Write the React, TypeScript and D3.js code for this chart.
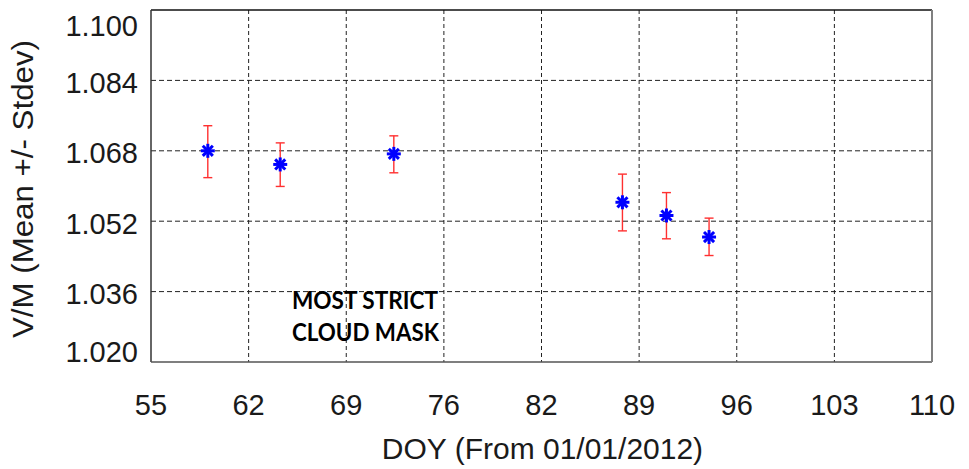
import React, { useEffect } from "react";
import * as d3 from "d3";

const doy = [59.0, 64.1, 72.1, 88.2, 91.3, 94.3];
const meanVals = [1.068, 1.0649, 1.0673, 1.0563, 1.0533, 1.0484];
const upperVals = [1.0737, 1.0698, 1.0714, 1.0627, 1.0585, 1.0527];
const lowerVals = [1.0619, 1.0599, 1.063, 1.0498, 1.048, 1.0442];
const xTickLabels = ["55", "62", "69", "76", "82", "89", "96", "103", "110"];
const yTickValues = [1.02, 1.036, 1.052, 1.068, 1.084, 1.1];
const xTitle = "DOY (From 01/01/2012)";
const yTitle = "V/M (Mean +/- Stdev)";
const noteLines = ["MOST STRICT", "CLOUD MASK"];

const W = 969;
const H = 469;
const L = 151, R = 932, T = 10, B = 362;
const FONT = "'Liberation Sans', Arial, Helvetica, sans-serif";

export default function App() {
  useEffect(() => {
    document.body.style.margin = "0";
  }, []);

  const x = d3.scaleLinear().domain([55, 110]).range([L, R]);
  const y = d3.scaleLinear().domain([1.02, 1.1]).range([B, T]);
  const xTickValues = xTickLabels.map((_, i) => 55 + (i * (110 - 55)) / (xTickLabels.length - 1));

  const arm = 7;
  const diag = arm * 0.72;
  const cap = 4.5;

  return (
    <svg width={W} height={H} style={{ display: "block", background: "#fff" }}>
      <rect x={0} y={0} width={W} height={H} fill="#fff" />
      {/* grid */}
      {xTickValues.slice(1, -1).map((v, i) => (
        <line key={"gx" + i} x1={x(v)} x2={x(v)} y1={T} y2={B} stroke="#222" strokeWidth={1} strokeDasharray="4,3" />
      ))}
      {yTickValues.slice(1, -1).map((v, i) => (
        <line key={"gy" + i} x1={L} x2={R} y1={y(v)} y2={y(v)} stroke="#222" strokeWidth={1} strokeDasharray="5,3" />
      ))}
      {/* frame */}
      <line x1={L} x2={R} y1={T} y2={T} stroke="#111" strokeWidth={1.5} />
      <line x1={L} x2={L} y1={T} y2={B} stroke="#333" strokeWidth={1.5} />
      <line x1={L} x2={R} y1={B} y2={B} stroke="#555" strokeWidth={1.5} />
      <line x1={R} x2={R} y1={T} y2={B} stroke="#808080" strokeWidth={2} />

      {/* error bars */}
      {doy.map((d, i) => {
        const cx = x(d);
        return (
          <g key={"e" + i} stroke="#ff3030" strokeWidth={1.4} fill="none">
            <line x1={cx} x2={cx} y1={y(upperVals[i])} y2={y(lowerVals[i])} />
            <line x1={cx - cap} x2={cx + cap} y1={y(upperVals[i])} y2={y(upperVals[i])} />
            <line x1={cx - cap} x2={cx + cap} y1={y(lowerVals[i])} y2={y(lowerVals[i])} />
          </g>
        );
      })}
      {/* markers */}
      {doy.map((d, i) => {
        const cx = x(d);
        const cy = y(meanVals[i]);
        return (
          <g key={"m" + i} stroke="#0000ff" strokeWidth={3} strokeLinecap="butt">
            <line x1={cx - arm} x2={cx + arm} y1={cy} y2={cy} />
            <line x1={cx} x2={cx} y1={cy - arm} y2={cy + arm} />
            <line x1={cx - diag} x2={cx + diag} y1={cy - diag} y2={cy + diag} />
            <line x1={cx - diag} x2={cx + diag} y1={cy + diag} y2={cy - diag} />
          </g>
        );
      })}

      {/* annotation */}
      <text x={292} y={309} fontFamily="Lato, 'Open Sans', sans-serif" fontWeight="bold" fontSize={24} fill="#000" textLength={146} lengthAdjust="spacingAndGlyphs">
        {noteLines[0]}
      </text>
      <text x={292} y={341} fontFamily="Lato, 'Open Sans', sans-serif" fontWeight="bold" fontSize={24} fill="#000" textLength={147} lengthAdjust="spacingAndGlyphs">
        {noteLines[1]}
      </text>

      {/* x tick labels */}
      {xTickValues.map((v, i) => (
        <text key={"xt" + i} x={x(v)} y={415} textAnchor="middle" fontFamily={FONT} fontSize={29} fill="#1a1a1a">
          {xTickLabels[i]}
        </text>
      ))}
      {/* y tick labels */}
      {yTickValues.map((v, i) => {
        const c = Math.min(Math.max(y(v) + 2, 25.5), 352);
        return (
          <text key={"yt" + i} x={138} y={c + 10.4} textAnchor="end" fontFamily={FONT} fontSize={29} fill="#1a1a1a">
            {d3.format(".3f")(v)}
          </text>
        );
      })}
      {/* titles */}
      <text x={(L + R) / 2 + 1} y={459} textAnchor="middle" fontFamily={FONT} fontSize={30} fill="#1a1a1a">
        {xTitle}
      </text>
      <text
        transform={`translate(33, ${189}) rotate(-90)`}
        textAnchor="middle"
        fontFamily={FONT}
        fontSize={30}
        fill="#1a1a1a"
        textLength={298}
        lengthAdjust="spacingAndGlyphs"
      >
        {yTitle}
      </text>
    </svg>
  );
}
